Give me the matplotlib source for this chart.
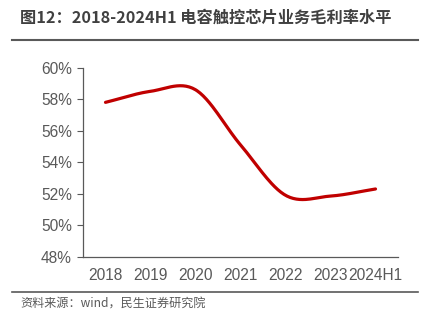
import matplotlib.pyplot as plt
import numpy as np
from matplotlib.lines import Line2D

plt.rcParams['font.family'] = ['Noto Sans CJK SC', 'DejaVu Sans']

years = ['2018', '2019', '2020', '2021', '2022', '2023', '2024H1']
margin = [57.8, 58.5, 58.6, 55.1, 51.9, 51.85, 52.3]
y_ticks = [48, 50, 52, 54, 56, 58, 60]


# сглаженная линия (как в Excel) по точкам данных
def smooth(xs, ys, n=30):
    xs = np.asarray(xs, float)
    ys = np.asarray(ys, float)
    m = np.gradient(ys, xs, edge_order=1)
    m[1:-1] = (ys[2:] - ys[:-2]) / 2
    px, py = [], []
    for i in range(len(xs) - 1):
        t = np.linspace(0, 1, n)
        h00 = 2 * t**3 - 3 * t**2 + 1
        h10 = t**3 - 2 * t**2 + t
        h01 = -2 * t**3 + 3 * t**2
        h11 = t**3 - t**2
        px.extend(xs[i] + t * (xs[i + 1] - xs[i]))
        py.extend(h00 * ys[i] + h10 * m[i] + h01 * ys[i + 1] + h11 * m[i + 1])
    return px, py


fig = plt.figure(figsize=(4.22, 3.22), dpi=100)
ax = fig.add_axes([83 / 422, 1 - 256.7 / 322, 315 / 422, 189 / 322])

x = np.arange(len(years))
sx, sy = smooth(x, margin)
ax.plot(sx, sy, color='#C00000', linewidth=2.3, solid_capstyle='round')

ax.set_xlim(-0.5, len(years) - 0.5)
ax.set_ylim(48, 60)
ax.set_xticks(x, years)
ax.set_yticks(y_ticks, [f'{v}%' for v in y_ticks])

for s in ['top', 'right']:
    ax.spines[s].set_visible(False)
for s in ['left', 'bottom']:
    ax.spines[s].set_color('#595959')
    ax.spines[s].set_linewidth(0.9)
ax.tick_params(axis='y', length=4, color='#595959', labelcolor='#595959',
               labelsize=11.2, pad=4)
ax.tick_params(axis='x', length=0, labelcolor='#595959', labelsize=11.2, pad=8)
for lab in ax.get_xticklabels() + ax.get_yticklabels():
    lab.set_family(['Liberation Sans', 'DejaVu Sans'])

fig.text(20 / 422, 1 - 18 / 322, '图12：2018-2024H1 电容触控芯片业务毛利率水平',
         fontsize=11.7, fontweight='bold', color='#404040', va='center')
fig.add_artist(Line2D([12 / 422, 418 / 422], [1 - 39.5 / 322] * 2,
                      color='#595959', linewidth=1.5))
fig.add_artist(Line2D([12 / 422, 418 / 422], [1 - 291.7 / 322] * 2,
                      color='#595959', linewidth=1.2))
fig.text(20 / 422, 1 - 304 / 322, '资料来源：wind，民生证券研究院',
         fontsize=8.7, color='#595959', va='center')

fig.savefig('out.png', dpi=100)
